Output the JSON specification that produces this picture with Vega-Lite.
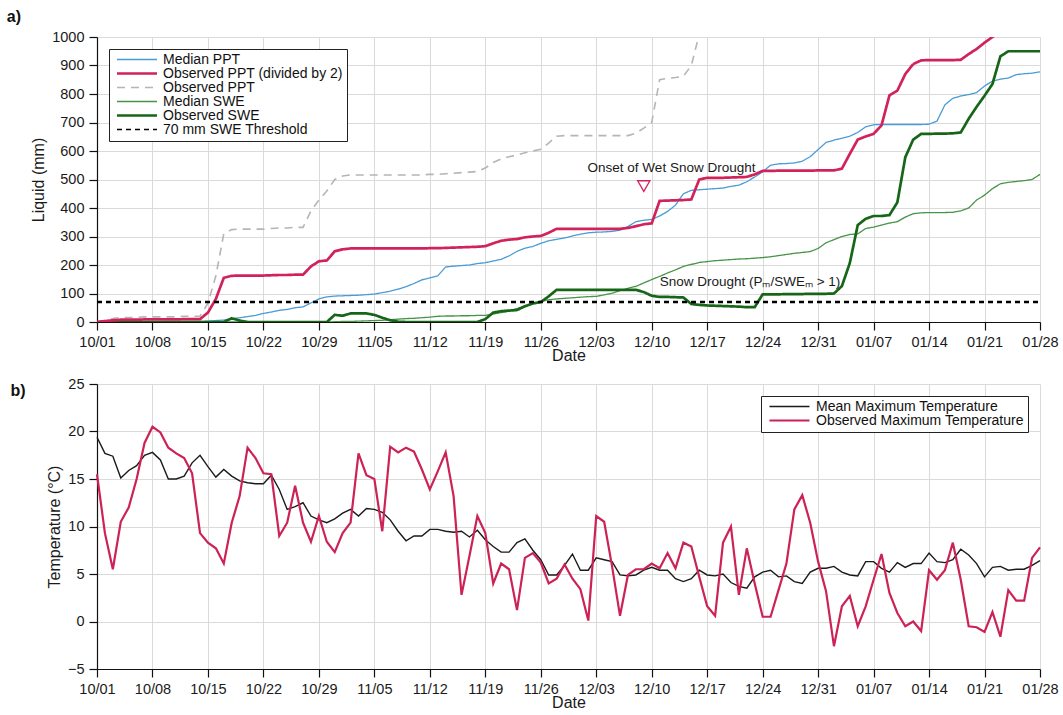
{
"$schema": "https://vega.github.io/schema/vega-lite/v6.json",
"padding": {"left": 6, "top": 9, "right": 22, "bottom": 2},
"spacing": 12,
"config": {
  "font": "Liberation Sans",
  "view": {"stroke": null},
  "axis": {"labelFontSize": 14.5, "titleFontSize": 16, "titleFontWeight": "normal", "labelColor": "#1a1a1a", "titleColor": "#1a1a1a", "domainColor": "#111", "tickColor": "#111", "tickSize": 8, "gridColor": "#dadada", "domainWidth": 1.2, "tickWidth": 1.2},
  "axisX": {"labelPadding": 5, "titlePadding": -1},
  "axisY": {"labelPadding": 5, "titlePadding": 5},
  "legend": {"symbolType": "stroke", "symbolSize": 1600, "clipHeight": 13, "labelFontSize": 14, "labelColor": "#111", "strokeColor": "#222", "fillColor": "white", "padding": 4, "symbolOffset": 3, "labelOffset": 5, "rowPadding": -1.8, "offset": 12, "labelLimit": 400, "symbolStrokeWidth": 1.5},
  "title": {"fontSize": 16, "fontWeight": "bold", "anchor": "start", "frame": "bounds", "color": "#111"}
},
"vconcat": [
{
  "title": {"text": "a)", "dx": -24},
  "width": 943, "height": 285,
  "encoding": {
    "x": {"field": "d", "type": "temporal",
      "scale": {"type": "utc", "domain": [{"year": 2014, "month": 10, "date": 1, "utc": true}, {"year": 2015, "month": 1, "date": 28, "utc": true}]},
      "axis": {"title": "Date", "format": "%m/%d", "grid": true, "labelFlush": false, "values": [
        {"year":2014,"month":10,"date":1,"utc":true},{"year":2014,"month":10,"date":8,"utc":true},{"year":2014,"month":10,"date":15,"utc":true},{"year":2014,"month":10,"date":22,"utc":true},{"year":2014,"month":10,"date":29,"utc":true},{"year":2014,"month":11,"date":5,"utc":true},{"year":2014,"month":11,"date":12,"utc":true},{"year":2014,"month":11,"date":19,"utc":true},{"year":2014,"month":11,"date":26,"utc":true},{"year":2014,"month":12,"date":3,"utc":true},{"year":2014,"month":12,"date":10,"utc":true},{"year":2014,"month":12,"date":17,"utc":true},{"year":2014,"month":12,"date":24,"utc":true},{"year":2014,"month":12,"date":31,"utc":true},{"year":2015,"month":1,"date":7,"utc":true},{"year":2015,"month":1,"date":14,"utc":true},{"year":2015,"month":1,"date":21,"utc":true},{"year":2015,"month":1,"date":28,"utc":true}]}},
    "y": {"field": "value", "type": "quantitative", "scale": {"domain": [0, 1000], "nice": false},
      "axis": {"title": "Liquid (mm)", "format": "d", "values": [0,100,200,300,400,500,600,700,800,900,1000], "grid": true}}
  },
  "layer": [
    {
      "data": {"values": [
{"d":"2014-10-01","mp":0,"op2":0,"op":0,"ms":0,"os":0},
{"d":"2014-10-02","mp":0,"op2":3,"op":6,"ms":0,"os":0},
{"d":"2014-10-03","mp":0,"op2":6,"op":12,"ms":0,"os":0},
{"d":"2014-10-04","mp":0,"op2":8,"op":16,"ms":0,"os":0},
{"d":"2014-10-05","mp":1,"op2":8,"op":16,"ms":0,"os":0},
{"d":"2014-10-06","mp":1,"op2":8,"op":16,"ms":0,"os":0},
{"d":"2014-10-07","mp":1,"op2":9,"op":18,"ms":0,"os":0},
{"d":"2014-10-08","mp":1,"op2":9,"op":18,"ms":0,"os":0},
{"d":"2014-10-09","mp":1,"op2":9,"op":18,"ms":0,"os":0},
{"d":"2014-10-10","mp":2,"op2":9,"op":18,"ms":0,"os":0},
{"d":"2014-10-11","mp":2,"op2":9,"op":18,"ms":0,"os":0},
{"d":"2014-10-12","mp":2,"op2":10,"op":20,"ms":0,"os":0},
{"d":"2014-10-13","mp":2,"op2":10,"op":20,"ms":0,"os":0},
{"d":"2014-10-14","mp":2,"op2":10,"op":20,"ms":0,"os":0},
{"d":"2014-10-15","mp":3,"op2":33,"op":66,"ms":0,"os":0},
{"d":"2014-10-16","mp":5,"op2":81,"op":162,"ms":0,"os":0},
{"d":"2014-10-17","mp":7,"op2":155,"op":310,"ms":0,"os":0},
{"d":"2014-10-18","mp":12,"op2":162,"op":324,"ms":0,"os":13},
{"d":"2014-10-19","mp":15,"op2":163,"op":326,"ms":0,"os":5},
{"d":"2014-10-20","mp":19,"op2":163,"op":326,"ms":0,"os":0},
{"d":"2014-10-21","mp":23,"op2":163,"op":326,"ms":0,"os":0},
{"d":"2014-10-22","mp":30,"op2":163,"op":326,"ms":0,"os":0},
{"d":"2014-10-23","mp":35,"op2":164,"op":328,"ms":0,"os":0},
{"d":"2014-10-24","mp":41,"op2":165,"op":330,"ms":0,"os":0},
{"d":"2014-10-25","mp":44,"op2":165,"op":330,"ms":0,"os":0},
{"d":"2014-10-26","mp":50,"op2":166,"op":332,"ms":0,"os":0},
{"d":"2014-10-27","mp":53,"op2":166,"op":332,"ms":0,"os":0},
{"d":"2014-10-28","mp":67,"op2":195,"op":390,"ms":0,"os":0},
{"d":"2014-10-29","mp":81,"op2":213,"op":428,"ms":0,"os":0},
{"d":"2014-10-30","mp":88,"op2":216,"op":460,"ms":0,"os":0},
{"d":"2014-10-31","mp":91,"op2":248,"op":500,"ms":1,"os":25},
{"d":"2014-11-01","mp":92,"op2":255,"op":512,"ms":2,"os":22},
{"d":"2014-11-02","mp":93,"op2":258,"op":516,"ms":2,"os":30},
{"d":"2014-11-03","mp":94,"op2":258,"op":516,"ms":3,"os":30},
{"d":"2014-11-04","mp":96,"op2":258,"op":516,"ms":4,"os":30},
{"d":"2014-11-05","mp":98,"op2":258,"op":516,"ms":5,"os":25},
{"d":"2014-11-06","mp":103,"op2":258,"op":516,"ms":6,"os":15},
{"d":"2014-11-07","mp":108,"op2":258,"op":516,"ms":8,"os":6},
{"d":"2014-11-08","mp":115,"op2":258,"op":516,"ms":10,"os":1},
{"d":"2014-11-09","mp":124,"op2":258,"op":516,"ms":12,"os":0},
{"d":"2014-11-10","mp":135,"op2":258,"op":516,"ms":13,"os":0},
{"d":"2014-11-11","mp":148,"op2":258,"op":516,"ms":15,"os":0},
{"d":"2014-11-12","mp":155,"op2":259,"op":518,"ms":17,"os":0},
{"d":"2014-11-13","mp":162,"op2":259,"op":518,"ms":20,"os":0},
{"d":"2014-11-14","mp":193,"op2":260,"op":520,"ms":21,"os":0},
{"d":"2014-11-15","mp":196,"op2":261,"op":522,"ms":21,"os":0},
{"d":"2014-11-16","mp":198,"op2":262,"op":524,"ms":22,"os":0},
{"d":"2014-11-17","mp":200,"op2":263,"op":526,"ms":22,"os":0},
{"d":"2014-11-18","mp":205,"op2":264,"op":528,"ms":23,"os":0},
{"d":"2014-11-19","mp":208,"op2":266,"op":540,"ms":23,"os":10},
{"d":"2014-11-20","mp":214,"op2":276,"op":560,"ms":28,"os":33},
{"d":"2014-11-21","mp":220,"op2":285,"op":572,"ms":33,"os":38},
{"d":"2014-11-22","mp":232,"op2":289,"op":580,"ms":38,"os":40},
{"d":"2014-11-23","mp":248,"op2":291,"op":586,"ms":47,"os":42},
{"d":"2014-11-24","mp":259,"op2":297,"op":594,"ms":57,"os":55},
{"d":"2014-11-25","mp":265,"op2":300,"op":600,"ms":65,"os":65},
{"d":"2014-11-26","mp":276,"op2":302,"op":606,"ms":72,"os":70},
{"d":"2014-11-27","mp":285,"op2":313,"op":628,"ms":78,"os":90},
{"d":"2014-11-28","mp":290,"op2":327,"op":652,"ms":81,"os":113},
{"d":"2014-11-29","mp":295,"op2":327,"op":654,"ms":83,"os":113},
{"d":"2014-11-30","mp":302,"op2":327,"op":654,"ms":85,"os":113},
{"d":"2014-12-01","mp":308,"op2":327,"op":654,"ms":87,"os":113},
{"d":"2014-12-02","mp":313,"op2":327,"op":654,"ms":89,"os":113},
{"d":"2014-12-03","mp":315,"op2":327,"op":654,"ms":90,"os":113},
{"d":"2014-12-04","mp":316,"op2":327,"op":654,"ms":95,"os":113},
{"d":"2014-12-05","mp":318,"op2":327,"op":654,"ms":101,"os":113},
{"d":"2014-12-06","mp":322,"op2":327,"op":654,"ms":110,"os":113},
{"d":"2014-12-07","mp":335,"op2":330,"op":654,"ms":118,"os":113},
{"d":"2014-12-08","mp":352,"op2":336,"op":662,"ms":125,"os":113},
{"d":"2014-12-09","mp":357,"op2":343,"op":680,"ms":137,"os":105},
{"d":"2014-12-10","mp":360,"op2":346,"op":700,"ms":149,"os":92},
{"d":"2014-12-11","mp":372,"op2":425,"op":850,"ms":160,"os":88},
{"d":"2014-12-12","mp":388,"op2":426,"op":855,"ms":172,"os":88},
{"d":"2014-12-13","mp":410,"op2":427,"op":858,"ms":183,"os":87},
{"d":"2014-12-14","mp":450,"op2":428,"op":862,"ms":195,"os":86},
{"d":"2014-12-15","mp":462,"op2":430,"op":900,"ms":202,"os":63},
{"d":"2014-12-16","mp":464,"op2":500,"op":1010,"ms":209,"os":60},
{"d":"2014-12-17","mp":466,"op2":506,"op":1012,"ms":212,"os":58},
{"d":"2014-12-18","mp":468,"op2":506,"op":1012,"ms":215,"os":57},
{"d":"2014-12-19","mp":470,"op2":506,"op":1012,"ms":217,"os":56},
{"d":"2014-12-20","mp":476,"op2":507,"op":1014,"ms":219,"os":55},
{"d":"2014-12-21","mp":480,"op2":508,"op":1016,"ms":221,"os":54},
{"d":"2014-12-22","mp":492,"op2":509,"op":1018,"ms":222,"os":52},
{"d":"2014-12-23","mp":509,"op2":518,"op":1036,"ms":224,"os":52},
{"d":"2014-12-24","mp":527,"op2":530,"op":1060,"ms":226,"os":97},
{"d":"2014-12-25","mp":550,"op2":530,"op":1060,"ms":229,"os":97},
{"d":"2014-12-26","mp":555,"op2":531,"op":1062,"ms":233,"os":97},
{"d":"2014-12-27","mp":556,"op2":531,"op":1062,"ms":237,"os":98},
{"d":"2014-12-28","mp":558,"op2":531,"op":1062,"ms":241,"os":98},
{"d":"2014-12-29","mp":564,"op2":531,"op":1062,"ms":244,"os":98},
{"d":"2014-12-30","mp":580,"op2":531,"op":1062,"ms":247,"os":99},
{"d":"2014-12-31","mp":605,"op2":532,"op":1064,"ms":258,"os":99},
{"d":"2015-01-01","mp":630,"op2":532,"op":1064,"ms":278,"os":99},
{"d":"2015-01-02","mp":638,"op2":532,"op":1064,"ms":289,"os":100},
{"d":"2015-01-03","mp":645,"op2":538,"op":1076,"ms":300,"os":126},
{"d":"2015-01-04","mp":652,"op2":590,"op":1180,"ms":307,"os":207},
{"d":"2015-01-05","mp":665,"op2":640,"op":1280,"ms":309,"os":340},
{"d":"2015-01-06","mp":685,"op2":651,"op":1302,"ms":328,"os":362},
{"d":"2015-01-07","mp":692,"op2":660,"op":1320,"ms":333,"os":372},
{"d":"2015-01-08","mp":693,"op2":690,"op":1380,"ms":340,"os":372},
{"d":"2015-01-09","mp":693,"op2":795,"op":1590,"ms":347,"os":375},
{"d":"2015-01-10","mp":693,"op2":812,"op":1624,"ms":352,"os":420},
{"d":"2015-01-11","mp":693,"op2":870,"op":1740,"ms":368,"os":578},
{"d":"2015-01-12","mp":693,"op2":905,"op":1810,"ms":380,"os":640},
{"d":"2015-01-13","mp":693,"op2":918,"op":1836,"ms":383,"os":660},
{"d":"2015-01-14","mp":694,"op2":919,"op":1838,"ms":384,"os":660},
{"d":"2015-01-15","mp":705,"op2":919,"op":1838,"ms":384,"os":661},
{"d":"2015-01-16","mp":762,"op2":919,"op":1838,"ms":384,"os":661},
{"d":"2015-01-17","mp":785,"op2":919,"op":1838,"ms":385,"os":662},
{"d":"2015-01-18","mp":793,"op2":920,"op":1840,"ms":390,"os":665},
{"d":"2015-01-19","mp":798,"op2":940,"op":1880,"ms":400,"os":713},
{"d":"2015-01-20","mp":805,"op2":958,"op":1916,"ms":428,"os":755},
{"d":"2015-01-21","mp":828,"op2":980,"op":1960,"ms":445,"os":794},
{"d":"2015-01-22","mp":845,"op2":1000,"op":2000,"ms":468,"os":835},
{"d":"2015-01-23","mp":852,"op2":1020,"op":2040,"ms":485,"os":932},
{"d":"2015-01-24","mp":856,"op2":1040,"op":2080,"ms":490,"os":950},
{"d":"2015-01-25","mp":868,"op2":1060,"op":2120,"ms":493,"os":950},
{"d":"2015-01-26","mp":871,"op2":1080,"op":2160,"ms":496,"os":950},
{"d":"2015-01-27","mp":873,"op2":1100,"op":2200,"ms":500,"os":950},
{"d":"2015-01-28","mp":878,"op2":1120,"op":2240,"ms":518,"os":950}
      ]},
      "transform": [{"fold": ["op", "mp", "ms", "os", "op2"], "as": ["series", "value"]}],
      "mark": {"type": "line", "clip": true},
      "encoding": {
        "color": {"field": "series", "type": "nominal",
          "scale": {"domain": ["mp", "op2", "op", "ms", "os", "thr"], "range": ["#4a9bd6", "#d2225a", "#b5b5b5", "#479447", "#176617", "#000000"]},
          "legend": {"title": null, "orient": "top-left",
            "labelExpr": "datum.label == 'mp' ? 'Median PPT' : datum.label == 'op2' ? 'Observed PPT (divided by 2)' : datum.label == 'op' ? 'Observed PPT' : datum.label == 'ms' ? 'Median SWE' : datum.label == 'os' ? 'Observed SWE' : '70 mm SWE Threshold'",
            "encode": {"symbols": {"update": {"strokeWidth": {"signal": "((datum.value == 'op2' || datum.value == 'os') ? 2.7 : (datum.value == 'op' ? 1.6 : 1.3))"}}}}}},
        "strokeDash": {"field": "series", "type": "nominal",
          "scale": {"domain": ["mp", "op2", "op", "ms", "os", "thr"], "range": [[1,0],[1,0],[8,6],[1,0],[1,0],[5,4]]},
          "legend": {"title": null, "orient": "top-left",
            "labelExpr": "datum.label == 'mp' ? 'Median PPT' : datum.label == 'op2' ? 'Observed PPT (divided by 2)' : datum.label == 'op' ? 'Observed PPT' : datum.label == 'ms' ? 'Median SWE' : datum.label == 'os' ? 'Observed SWE' : '70 mm SWE Threshold'",
            "encode": {"symbols": {"update": {"strokeWidth": {"signal": "((datum.value == 'op2' || datum.value == 'os') ? 2.7 : (datum.value == 'op' ? 1.6 : 1.3))"}}}}}},
        "strokeWidth": {"field": "series", "type": "nominal",
          "scale": {"type": "ordinal", "domain": ["mp", "op2", "op", "ms", "os", "thr"], "range": [1.3, 2.7, 1.6, 1.3, 2.7, 1.3]},
          "legend": null}
      }
    },
    {
      "data": {"values": [{"d": "2014-10-01", "series": "thr", "value": 70}, {"d": "2015-01-28", "series": "thr", "value": 70}]},
      "mark": {"type": "line", "clip": true},
      "encoding": {
        "color": {"field": "series", "type": "nominal"},
        "strokeDash": {"field": "series", "type": "nominal"},
        "strokeWidth": {"field": "series", "type": "nominal", "legend": null}
      }
    },
    {
      "data": {"values": [{"d": "2014-12-09", "value": 477}]},
      "mark": {"type": "point", "shape": "triangle-down", "size": 150, "filled": false, "stroke": "#d2225a", "strokeWidth": 1.3, "opacity": 1},
      "encoding": {}
    },
    {
      "data": {"values": [{"d": "2014-12-12T12:00:00Z", "value": 540, "label": "Onset of Wet Snow Drought"}]},
      "mark": {"type": "text", "align": "center", "baseline": "middle", "fontSize": 13.5, "color": "#1a1a1a"},
      "encoding": {"text": {"field": "label"}}
    },
    {
      "data": {"values": [{"d": "2014-12-11", "value": 140, "label": "Snow Drought (Pₘ/SWEₘ > 1)"}]},
      "mark": {"type": "text", "align": "left", "baseline": "middle", "fontSize": 13.5, "color": "#1a1a1a"},
      "encoding": {"text": {"field": "label"}}
    }
  ]
},
{
  "title": {"text": "b)", "dx": -36, "dy": 27},
  "width": 943, "height": 285,
  "data": {"values": [
{"d":"2014-10-01","mean":19.4,"obs":15.5},
{"d":"2014-10-02","mean":17.7,"obs":9.3},
{"d":"2014-10-03","mean":17.4,"obs":5.5},
{"d":"2014-10-04","mean":15.1,"obs":10.5},
{"d":"2014-10-05","mean":15.9,"obs":12.0},
{"d":"2014-10-06","mean":16.4,"obs":15.0},
{"d":"2014-10-07","mean":17.5,"obs":18.8},
{"d":"2014-10-08","mean":17.8,"obs":20.5},
{"d":"2014-10-09","mean":17.0,"obs":19.9},
{"d":"2014-10-10","mean":15.0,"obs":18.3},
{"d":"2014-10-11","mean":15.0,"obs":17.7},
{"d":"2014-10-12","mean":15.3,"obs":17.2},
{"d":"2014-10-13","mean":16.7,"obs":15.6},
{"d":"2014-10-14","mean":17.5,"obs":9.3},
{"d":"2014-10-15","mean":16.3,"obs":8.3},
{"d":"2014-10-16","mean":15.2,"obs":7.7},
{"d":"2014-10-17","mean":16.0,"obs":6.1},
{"d":"2014-10-18","mean":15.3,"obs":10.4},
{"d":"2014-10-19","mean":14.8,"obs":13.2},
{"d":"2014-10-20","mean":14.6,"obs":18.3},
{"d":"2014-10-21","mean":14.5,"obs":17.2},
{"d":"2014-10-22","mean":14.5,"obs":15.6},
{"d":"2014-10-23","mean":15.4,"obs":15.5},
{"d":"2014-10-24","mean":13.9,"obs":9.0},
{"d":"2014-10-25","mean":11.8,"obs":10.4},
{"d":"2014-10-26","mean":12.1,"obs":14.3},
{"d":"2014-10-27","mean":12.5,"obs":10.4},
{"d":"2014-10-28","mean":11.1,"obs":8.4},
{"d":"2014-10-29","mean":10.7,"obs":11.1},
{"d":"2014-10-30","mean":10.4,"obs":8.4},
{"d":"2014-10-31","mean":10.8,"obs":7.3},
{"d":"2014-11-01","mean":11.4,"obs":9.3},
{"d":"2014-11-02","mean":11.8,"obs":10.4},
{"d":"2014-11-03","mean":11.1,"obs":17.7},
{"d":"2014-11-04","mean":11.9,"obs":15.4},
{"d":"2014-11-05","mean":11.8,"obs":15.0},
{"d":"2014-11-06","mean":11.5,"obs":9.5},
{"d":"2014-11-07","mean":10.7,"obs":18.4},
{"d":"2014-11-08","mean":9.5,"obs":17.8},
{"d":"2014-11-09","mean":8.5,"obs":18.3},
{"d":"2014-11-10","mean":9.0,"obs":17.9},
{"d":"2014-11-11","mean":9.0,"obs":16.0},
{"d":"2014-11-12","mean":9.7,"obs":13.9},
{"d":"2014-11-13","mean":9.7,"obs":15.8},
{"d":"2014-11-14","mean":9.5,"obs":17.8},
{"d":"2014-11-15","mean":9.4,"obs":13.2},
{"d":"2014-11-16","mean":9.5,"obs":2.8},
{"d":"2014-11-17","mean":8.9,"obs":6.9},
{"d":"2014-11-18","mean":9.6,"obs":11.1},
{"d":"2014-11-19","mean":8.6,"obs":9.3},
{"d":"2014-11-20","mean":7.9,"obs":4.0},
{"d":"2014-11-21","mean":7.3,"obs":6.1},
{"d":"2014-11-22","mean":7.3,"obs":5.5},
{"d":"2014-11-23","mean":8.3,"obs":1.2},
{"d":"2014-11-24","mean":8.7,"obs":6.7},
{"d":"2014-11-25","mean":7.5,"obs":7.2},
{"d":"2014-11-26","mean":6.5,"obs":6.2},
{"d":"2014-11-27","mean":4.9,"obs":4.0},
{"d":"2014-11-28","mean":4.9,"obs":4.5},
{"d":"2014-11-29","mean":5.9,"obs":6.0},
{"d":"2014-11-30","mean":7.1,"obs":4.5},
{"d":"2014-12-01","mean":5.4,"obs":3.4},
{"d":"2014-12-02","mean":5.4,"obs":0.1},
{"d":"2014-12-03","mean":6.7,"obs":11.1},
{"d":"2014-12-04","mean":6.5,"obs":10.5},
{"d":"2014-12-05","mean":6.3,"obs":5.8},
{"d":"2014-12-06","mean":4.9,"obs":0.6},
{"d":"2014-12-07","mean":4.8,"obs":4.9},
{"d":"2014-12-08","mean":4.9,"obs":5.5},
{"d":"2014-12-09","mean":5.4,"obs":5.5},
{"d":"2014-12-10","mean":5.7,"obs":6.1},
{"d":"2014-12-11","mean":5.4,"obs":5.6},
{"d":"2014-12-12","mean":5.4,"obs":7.2},
{"d":"2014-12-13","mean":4.5,"obs":5.6},
{"d":"2014-12-14","mean":4.2,"obs":8.3},
{"d":"2014-12-15","mean":4.5,"obs":7.9},
{"d":"2014-12-16","mean":5.4,"obs":4.7},
{"d":"2014-12-17","mean":4.9,"obs":1.6},
{"d":"2014-12-18","mean":4.8,"obs":0.6},
{"d":"2014-12-19","mean":5.0,"obs":8.3},
{"d":"2014-12-20","mean":4.1,"obs":10.0},
{"d":"2014-12-21","mean":3.7,"obs":2.8},
{"d":"2014-12-22","mean":3.5,"obs":7.7},
{"d":"2014-12-23","mean":4.7,"obs":4.0},
{"d":"2014-12-24","mean":5.2,"obs":0.5},
{"d":"2014-12-25","mean":5.4,"obs":0.5},
{"d":"2014-12-26","mean":4.7,"obs":3.3},
{"d":"2014-12-27","mean":4.8,"obs":6.1},
{"d":"2014-12-28","mean":4.2,"obs":11.8},
{"d":"2014-12-29","mean":4.0,"obs":13.3},
{"d":"2014-12-30","mean":5.2,"obs":10.4},
{"d":"2014-12-31","mean":5.6,"obs":6.3},
{"d":"2015-01-01","mean":5.6,"obs":3.2},
{"d":"2015-01-02","mean":5.8,"obs":-2.6},
{"d":"2015-01-03","mean":5.2,"obs":1.6},
{"d":"2015-01-04","mean":4.9,"obs":2.7},
{"d":"2015-01-05","mean":4.8,"obs":-0.5},
{"d":"2015-01-06","mean":6.3,"obs":1.6},
{"d":"2015-01-07","mean":6.3,"obs":4.4},
{"d":"2015-01-08","mean":5.6,"obs":7.1},
{"d":"2015-01-09","mean":5.2,"obs":3.0},
{"d":"2015-01-10","mean":6.2,"obs":0.9},
{"d":"2015-01-11","mean":5.7,"obs":-0.5},
{"d":"2015-01-12","mean":6.1,"obs":0.0},
{"d":"2015-01-13","mean":6.1,"obs":-1.0},
{"d":"2015-01-14","mean":7.2,"obs":5.4},
{"d":"2015-01-15","mean":6.3,"obs":4.4},
{"d":"2015-01-16","mean":6.2,"obs":5.4},
{"d":"2015-01-17","mean":6.5,"obs":8.3},
{"d":"2015-01-18","mean":7.6,"obs":4.4},
{"d":"2015-01-19","mean":7.0,"obs":-0.5},
{"d":"2015-01-20","mean":6.1,"obs":-0.6},
{"d":"2015-01-21","mean":4.7,"obs":-1.1},
{"d":"2015-01-22","mean":5.7,"obs":1.0},
{"d":"2015-01-23","mean":5.8,"obs":-1.6},
{"d":"2015-01-24","mean":5.4,"obs":3.3},
{"d":"2015-01-25","mean":5.5,"obs":2.2},
{"d":"2015-01-26","mean":5.5,"obs":2.2},
{"d":"2015-01-27","mean":5.9,"obs":6.7},
{"d":"2015-01-28","mean":6.4,"obs":7.8}
  ]},
  "transform": [{"fold": ["mean", "obs"], "as": ["series", "temp"]}],
  "mark": {"type": "line"},
  "encoding": {
    "x": {"field": "d", "type": "temporal",
      "scale": {"type": "utc", "domain": [{"year": 2014, "month": 10, "date": 1, "utc": true}, {"year": 2015, "month": 1, "date": 28, "utc": true}]},
      "axis": {"title": "Date", "format": "%m/%d", "grid": true, "labelFlush": false, "values": [
        {"year":2014,"month":10,"date":1,"utc":true},{"year":2014,"month":10,"date":8,"utc":true},{"year":2014,"month":10,"date":15,"utc":true},{"year":2014,"month":10,"date":22,"utc":true},{"year":2014,"month":10,"date":29,"utc":true},{"year":2014,"month":11,"date":5,"utc":true},{"year":2014,"month":11,"date":12,"utc":true},{"year":2014,"month":11,"date":19,"utc":true},{"year":2014,"month":11,"date":26,"utc":true},{"year":2014,"month":12,"date":3,"utc":true},{"year":2014,"month":12,"date":10,"utc":true},{"year":2014,"month":12,"date":17,"utc":true},{"year":2014,"month":12,"date":24,"utc":true},{"year":2014,"month":12,"date":31,"utc":true},{"year":2015,"month":1,"date":7,"utc":true},{"year":2015,"month":1,"date":14,"utc":true},{"year":2015,"month":1,"date":21,"utc":true},{"year":2015,"month":1,"date":28,"utc":true}]}},
    "y": {"field": "temp", "type": "quantitative", "scale": {"domain": [-5, 25], "nice": false},
      "axis": {"title": "Temperature (°C)", "values": [-5,0,5,10,15,20,25], "grid": true}},
    "color": {"field": "series", "type": "nominal",
      "scale": {"domain": ["mean", "obs"], "range": ["#1a1a1a", "#cc2256"]},
      "legend": {"title": null, "orient": "top-right", "labelExpr": "datum.label == 'mean' ? 'Mean Maximum Temperature' : 'Observed Maximum Temperature'"}},
    "strokeWidth": {"field": "series", "type": "nominal",
      "scale": {"type": "ordinal", "domain": ["mean", "obs"], "range": [1.4, 2.2]}, "legend": null}
  }
}
],
"resolve": {"scale": {"color": "independent", "strokeWidth": "independent", "strokeDash": "independent", "x": "independent", "y": "independent"}, "legend": {"color": "independent"}}
}
